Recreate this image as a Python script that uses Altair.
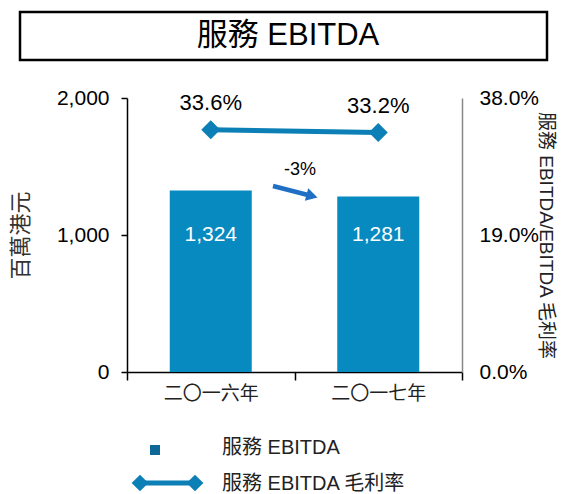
import altair as alt
import pandas as pd

years = ["二〇一六年", "二〇一七年"]
ebitda = [1324, 1281]
margin = [33.6, 33.2]
bar_labels = ["1,324", "1,281"]
margin_labels = ["33.6%", "33.2%"]
change_label = "-3%"
title_text = "服務 EBITDA"
left_title = "百萬港元"
right_title = "服務 EBITDA/EBITDA 毛利率"
legend_bar = "服務 EBITDA"
legend_line = "服務 EBITDA 毛利率"

FONT = "Liberation Sans, Arial, Noto Sans CJK TC"
BAR_C = "#078ac0"
LINE_C = "#0b7fb6"

df = pd.DataFrame({"year": years, "ebitda": ebitda, "margin": margin,
                   "blabel": bar_labels, "mlabel": margin_labels})

x = alt.X("year:N", sort=years, scale=alt.Scale(paddingInner=0, paddingOuter=0),
          axis=alt.Axis(title=None, labelFont=FONT, labelFontSize=19, labelColor="#222",
                        labelAngle=0, domainColor="#000", tickColor="#000", tickSize=8,
                        tickBand="extent", labelPadding=4, domainWidth=1.5, tickWidth=1.5))

yl = alt.Y("ebitda:Q", scale=alt.Scale(domain=[0, 2000], nice=False),
           axis=alt.Axis(values=[0, 1000, 2000], labelExpr="format(datum.value, ',.0f')",
                         title=left_title, grid=False,
                         labelFont=FONT, labelFontSize=21, labelColor="#000",
                         titleFont=FONT, titleFontSize=22, titleFontWeight="normal", titleColor="#333",
                         domainColor="#000", tickColor="#000", tickSize=6, labelPadding=12,
                         titlePadding=24, domainWidth=1.5, tickWidth=1.5))

bars = alt.Chart(df).mark_bar(size=82, color=BAR_C).encode(x=x, y=yl)
blab = alt.Chart(df).mark_text(color="white", font=FONT, fontSize=21).encode(
    x=alt.X("year:N", sort=years), y=alt.datum(1000), text="blabel:N")
left = alt.layer(bars, blab)

yr = alt.Y("margin:Q", scale=alt.Scale(domain=[0, 38], nice=False),
           axis=alt.Axis(orient="right", values=[0, 19, 38], labelExpr="format(datum.value, '.1f') + '%'",
                         title=right_title, grid=False, labelFont=FONT, labelFontSize=21, labelColor="#000",
                         titleFont=FONT, titleFontSize=19, titleFontWeight="normal", titleColor="#222",
                         titleAngle=90, domainColor="#888", ticks=False, labelPadding=17,
                         titlePadding=-3, domainWidth=1.5))

line = alt.Chart(df).mark_line(color=LINE_C, strokeWidth=5).encode(x=alt.X("year:N", sort=years), y=yr)
pts = alt.Chart(df).mark_point(shape="diamond", filled=True, size=360, color=LINE_C, opacity=1).encode(
    x=alt.X("year:N", sort=years), y=alt.Y("margin:Q"))
mlab = alt.Chart(df).mark_text(font=FONT, fontSize=22, color="#000", dy=-27).encode(
    x=alt.X("year:N", sort=years), y=alt.Y("margin:Q"), text="mlabel:N")
right = alt.layer(line, pts, mlab)

main = alt.layer(left, right).resolve_scale(y="independent")

one = pd.DataFrame({"t": [0]})
box = alt.Chart(one).mark_rect(fill="white", stroke="#000", strokeWidth=2.5).encode(
    x=alt.value(-107), x2=alt.value(420), y=alt.value(-86), y2=alt.value(-38))
ttl = alt.Chart(pd.DataFrame({"t": [title_text]})).mark_text(font=FONT, fontSize=31, color="#000").encode(
    x=alt.value(161), y=alt.value(-62), text="t:N")

arrow_line = alt.Chart(one).mark_rule(color="#1f6fc4", strokeWidth=4.5).encode(
    x=alt.value(146), x2=alt.value(181), y=alt.value(88), y2=alt.value(97))
arrow_head = alt.Chart(one).mark_point(shape="triangle-right", filled=True, size=170, color="#1f6fc4",
                                       opacity=1, angle=15).encode(x=alt.value(185), y=alt.value(98))
chg = alt.Chart(pd.DataFrame({"t": [change_label]})).mark_text(font=FONT, fontSize=18, color="#000").encode(
    x=alt.value(173), y=alt.value(72), text="t:N")

leg_sq = alt.Chart(one).mark_square(size=100, color="#0d6a98", opacity=1).encode(
    x=alt.value(28), y=alt.value(352))
leg_t1 = alt.Chart(pd.DataFrame({"t": [legend_bar]})).mark_text(font=FONT, fontSize=20, color="#222", align="left").encode(
    x=alt.value(95), y=alt.value(350), text="t:N")
leg_ln = alt.Chart(one).mark_rule(color=LINE_C, strokeWidth=5).encode(
    x=alt.value(13), x2=alt.value(68), y=alt.value(385))
leg_d1 = alt.Chart(one).mark_point(shape="diamond", filled=True, size=280, color=LINE_C, opacity=1).encode(
    x=alt.value(13), y=alt.value(385))
leg_d2 = alt.Chart(one).mark_point(shape="diamond", filled=True, size=280, color=LINE_C, opacity=1).encode(
    x=alt.value(68), y=alt.value(385))
leg_t2 = alt.Chart(pd.DataFrame({"t": [legend_line]})).mark_text(font=FONT, fontSize=20, color="#222", align="left").encode(
    x=alt.value(95), y=alt.value(386), text="t:N")

chart = alt.layer(main, box, ttl, arrow_line, arrow_head, chg,
                  leg_sq, leg_t1, leg_ln, leg_d1, leg_d2, leg_t2).properties(
    width=335, height=274,
    autosize=alt.AutoSizeParams(type="none"),
    padding={"left": 119, "top": 90, "right": 97, "bottom": 126},
).configure_view(stroke=None)

chart.save("out.html", embed_options={"renderer": "svg", "actions": False})
